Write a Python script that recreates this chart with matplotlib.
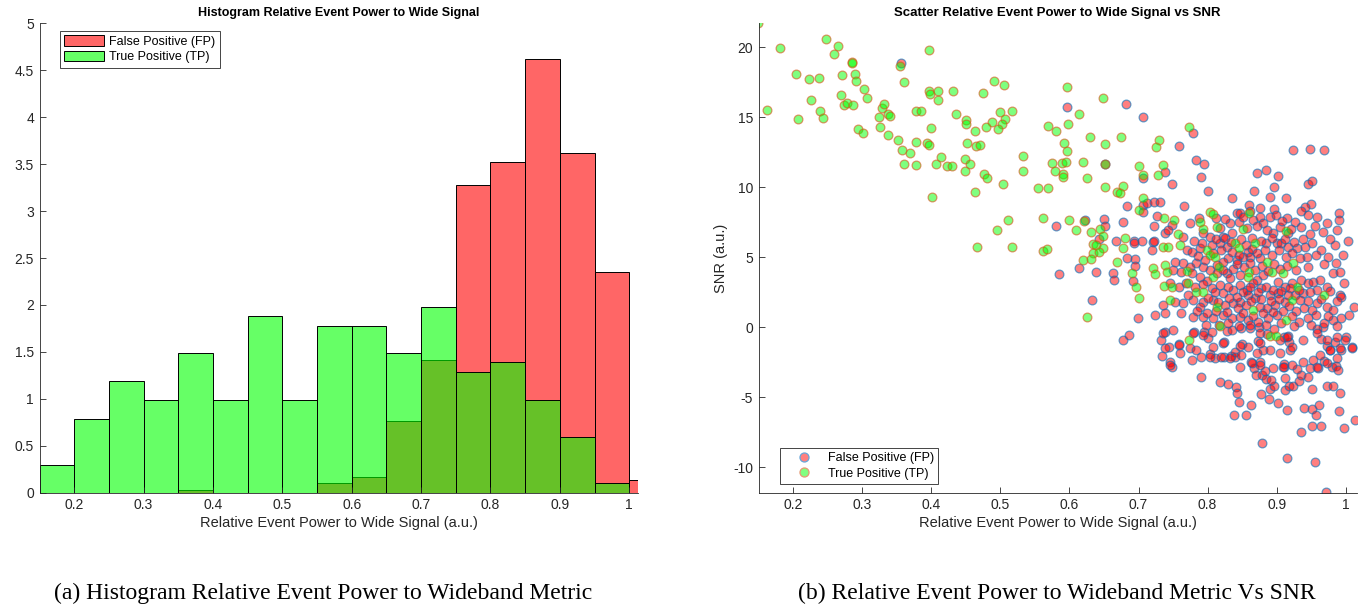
import numpy as np
import matplotlib
matplotlib.use("Agg")
import matplotlib.pyplot as plt
from matplotlib.patches import Patch
from matplotlib.lines import Line2D
from matplotlib.ticker import FuncFormatter

# ---- histogram (pdf normalised, bin width 0.05) ----
bin_starts = [0.15, 0.20, 0.25, 0.30, 0.35, 0.40, 0.45, 0.50, 0.55,
              0.60, 0.65, 0.70, 0.75, 0.80, 0.85, 0.90, 0.95, 1.00]
fp_density = [0, 0, 0, 0, 0.03, 0, 0, 0, 0.10,
              0.17, 0.76, 1.41, 3.28, 3.52, 4.62, 3.62, 2.35, 0.14]
tp_density = [0.30, 0.79, 1.19, 0.99, 1.49, 0.99, 1.88, 0.99, 1.78,
              1.78, 1.49, 1.98, 1.29, 1.39, 0.99, 0.59, 0.10, 0]

# ---- scatter: (relative power, SNR) ----
tp_points = [
    (0.149, 21.71), (0.162, 15.54), (0.180, 19.95), (0.204, 18.07), (0.206, 14.90),
    (0.223, 17.71), (0.237, 17.79), (0.226, 16.24), (0.239, 15.47), (0.243, 14.95),
    (0.247, 20.61), (0.259, 19.50), (0.265, 20.09), (0.270, 18.04), (0.269, 16.57),
    (0.274, 15.88), (0.278, 16.00), (0.286, 15.88), (0.285, 18.95), (0.285, 18.90),
    (0.289, 18.07), (0.290, 17.57), (0.302, 17.04), (0.306, 16.36), (0.293, 14.14),
    (0.301, 13.86), (0.324, 15.00), (0.326, 14.29), (0.329, 15.66), (0.332, 15.93),
    (0.337, 15.24), (0.340, 15.07), (0.337, 13.76), (0.352, 13.40), (0.357, 12.66),
    (0.360, 11.69), (0.369, 12.43), (0.377, 11.59), (0.377, 13.26), (0.377, 15.43),
    (0.385, 15.43), (0.355, 18.69), (0.360, 17.50), (0.396, 19.79), (0.397, 16.88),
    (0.398, 16.64), (0.410, 16.86), (0.410, 16.24), (0.431, 16.90), (0.436, 15.26),
    (0.399, 14.26), (0.394, 13.19), (0.397, 13.02), (0.406, 11.69), (0.414, 12.14),
    (0.422, 11.50), (0.430, 11.54), (0.449, 12.02), (0.449, 11.16), (0.450, 14.81),
    (0.450, 14.54), (0.452, 13.14), (0.401, 9.30),
    (0.490, 17.57), (0.505, 17.29), (0.475, 16.76), (0.500, 15.36), (0.516, 15.45),
    (0.506, 14.88), (0.502, 14.52), (0.497, 14.14), (0.488, 14.66), (0.479, 14.33),
    (0.463, 14.04), (0.464, 12.95), (0.471, 13.04), (0.456, 11.66), (0.476, 10.93),
    (0.481, 10.64), (0.463, 9.66), (0.503, 10.21), (0.533, 12.26), (0.532, 11.14),
    (0.554, 9.93), (0.569, 9.95), (0.569, 14.38), (0.580, 14.04), (0.596, 17.19),
    (0.598, 14.52), (0.592, 13.14), (0.597, 12.61), (0.574, 11.71), (0.589, 11.74),
    (0.595, 11.81), (0.579, 11.16), (0.590, 10.93), (0.591, 10.71), (0.614, 15.26),
    (0.649, 16.38), (0.630, 13.57), (0.651, 13.09), (0.675, 13.57), (0.620, 11.81),
    (0.625, 10.64), (0.651, 11.66), (0.651, 10.00), (0.700, 11.54), (0.706, 10.88),
    (0.730, 13.40), (0.725, 12.90), (0.736, 11.62), (0.728, 10.86), (0.678, 10.07),
    (0.669, 9.69), (0.673, 9.61),
    (0.773, 14.31), (0.803, 8.24), (0.808, 8.09), (0.860, 8.14), (0.913, 6.88),
    (0.851, 7.04), (0.757, 6.66), (0.752, 7.64), (0.793, 7.00), (0.814, 7.19),
    (0.789, 7.54),
    (0.511, 7.64), (0.495, 6.93), (0.561, 7.83), (0.466, 5.76), (0.517, 5.76),
    (0.562, 5.43), (0.567, 5.61), (0.599, 7.64), (0.610, 6.95), (0.621, 7.59),
    (0.631, 6.79), (0.644, 7.00), (0.649, 6.52), (0.634, 5.95), (0.638, 5.86),
    (0.648, 5.69), (0.634, 5.29), (0.643, 5.40), (0.620, 4.81), (0.631, 4.86),
    (0.669, 4.69), (0.677, 5.64), (0.681, 6.40), (0.690, 3.86), (0.697, 2.90),
    (0.700, 2.07), (0.701, 8.38), (0.707, 9.21), (0.737, 7.83), (0.721, 4.21),
    (0.724, 3.79),
    (0.626, 0.71), (0.773, -0.90), (0.891, -0.59), (0.899, -0.59),
    (0.735, 5.76), (0.743, 5.76), (0.760, 5.88), (0.799, 5.53), (0.803, 5.17),
    (0.811, 5.05), (0.840, 6.05), (0.845, 5.64), (0.869, 6.00), (0.924, 4.62),
    (0.886, 4.69), (0.738, 4.46), (0.741, 3.98), (0.770, 4.05), (0.737, 2.96),
    (0.748, 2.91), (0.772, 3.19), (0.783, 2.55), (0.794, 2.55), (0.808, 3.62),
    (0.816, 4.34), (0.860, 3.98), (0.859, 3.62), (0.893, 3.98), (0.910, 3.86),
    (0.929, 2.91), (0.969, 2.31), (0.745, 1.96), (0.814, 1.48), (0.866, 1.24),
    (0.923, 1.96), (0.914, 0.53), (0.818, 0.10),
]

fp_points = [
    (0.356, 18.90), (0.597, 15.71), (0.682, 15.95), (0.706, 15.00), (0.651, 11.66),
    (0.706, 10.69), (0.738, 11.12), (0.749, 10.24), (0.758, 12.93), (0.779, 13.86),
    (0.924, 12.66), (0.949, 12.76), (0.969, 12.66), (0.784, 11.95), (0.795, 11.64),
    (0.790, 10.74), (0.800, 9.76), (0.871, 11.02), (0.885, 11.21), (0.902, 10.79),
    (0.897, 10.02), (0.867, 9.71), (0.891, 9.29), (0.914, 9.21), (0.835, 9.21),
    (0.945, 10.26), (0.951, 10.43), (0.766, 8.66), (0.860, 8.71), (0.897, 8.47),
    (0.950, 8.79), (0.941, 8.57), (0.936, 8.31), (0.946, 8.04), (0.991, 8.19),
    (0.991, 7.64),
    (0.774, 7.43), (0.787, 7.79), (0.794, 6.72), (0.803, 6.48), (0.818, 7.07),
    (0.823, 6.48), (0.832, 7.43), (0.835, 6.72), (0.842, 8.14), (0.847, 8.19),
    (0.845, 7.55), (0.857, 7.07), (0.866, 7.67), (0.876, 7.91), (0.881, 7.43),
    (0.886, 6.95), (0.890, 7.91), (0.895, 6.72), (0.905, 7.19), (0.915, 7.79),
    (0.917, 6.72), (0.927, 7.55), (0.936, 7.19), (0.948, 6.67), (0.765, 6.48),
    (0.749, 7.31), (0.876, 8.50), (0.958, 7.91), (0.973, 7.43), (0.987, 6.95),
    (0.581, 7.24), (0.622, 7.64), (0.650, 7.74), (0.652, 7.26), (0.643, 6.31),
    (0.614, 4.21), (0.638, 3.95), (0.585, 3.79), (0.663, 3.86), (0.665, 3.38),
    (0.632, 1.95), (0.677, 7.50), (0.683, 8.66), (0.668, 6.16), (0.693, 6.16),
    (0.694, 6.00), (0.705, 6.16), (0.684, 4.97), (0.695, 4.88), (0.695, 4.38),
    (0.692, 3.31), (0.706, 8.70), (0.707, 8.20), (0.712, 8.85), (0.723, 8.95),
    (0.731, 8.95), (0.727, 7.95), (0.722, 7.26), (0.738, 6.71), (0.743, 6.95),
    (0.721, 6.11), (0.723, 6.20), (0.720, 5.52),
    (0.678, -0.90), (0.686, -0.52), (0.732, -0.90), (0.739, -0.36), (0.734, -2.02),
    (0.745, -2.45), (0.748, -2.80), (0.759, -1.19), (0.744, -1.43), (0.775, -1.47),
    (0.783, -1.59), (0.790, -3.52), (0.781, -0.36), (0.795, -0.36), (0.801, -0.78),
    (0.803, -1.90), (0.811, -2.19), (0.818, -3.87), (0.824, -2.09), (0.834, -2.02),
    (0.824, -1.02), (0.828, -0.24), (0.830, -4.04), (0.841, -4.25), (0.842, -4.70),
    (0.846, -5.30), (0.839, -6.29), (0.855, -6.29), (0.863, -5.53), (0.840, -1.73),
    (0.850, -1.19), (0.863, -2.49), (0.867, -2.90), (0.870, -3.44), (0.879, -3.44),
    (0.883, -3.09), (0.876, -2.49), (0.880, -1.62), (0.873, -0.95), (0.862, -0.07),
    (0.874, 0.00), (0.884, -3.68), (0.878, -4.75), (0.879, -8.24), (0.890, -4.44),
    (0.896, -4.16), (0.892, -3.75), (0.889, -5.11), (0.902, -5.39), (0.886, -0.48),
    (0.897, -0.12), (0.912, -3.63), (0.915, -5.87), (0.912, -4.51), (0.918, -4.20),
    (0.924, -4.16), (0.932, -3.80), (0.936, -3.44), (0.915, -9.33), (0.911, -2.85),
    (0.911, -2.61), (0.911, -0.71), (0.916, -0.59), (0.918, -1.07), (0.920, -1.59),
    (0.930, -2.97), (0.936, -7.48), (0.940, -5.75), (0.946, -3.56), (0.948, -2.92),
    (0.951, -4.39), (0.952, -5.82), (0.952, -7.08), (0.955, -9.62), (0.957, -6.29),
    (0.960, -2.92), (0.962, -5.53), (0.965, -7.08), (0.969, -2.38), (0.973, -1.35),
    (0.973, -4.16), (0.980, -2.85), (0.982, -4.16), (0.986, -2.73), (0.989, -3.02),
    (0.991, -6.01), (0.992, -4.70), (0.998, -7.20), (1.014, -6.60), (1.009, -1.43),
    (1.000, -0.67), (0.994, -1.62), (0.984, -1.07), (0.978, -1.62), (0.964, -0.83),
    (0.967, 0.00), (0.958, -0.12), (0.972, -11.76), (0.699, 0.64), (0.724, 0.88),
    (0.770, 5.53), (0.777, 5.41), (0.789, 5.64), (0.818, 6.00), (0.828, 5.76),
    (0.858, 5.41), (0.885, 6.05), (0.900, 6.00), (0.907, 6.05), (0.917, 5.76),
    (0.929, 5.64), (0.941, 5.76), (0.952, 6.00), (0.965, 5.53), (0.985, 5.88),
    (0.996, 5.17), (0.944, 5.05), (0.934, 4.93), (0.876, 4.93), (0.861, 5.05),
    (0.852, 5.05), (0.842, 4.81), (0.830, 4.93), (0.823, 4.69), (0.813, 4.46),
    (0.803, 4.10), (0.794, 4.34), (0.784, 4.57), (0.774, 4.34), (0.765, 4.57),
    (0.753, 4.69), (0.750, 4.10), (0.762, 3.98), (0.745, 3.15), (0.758, 2.91),
    (0.806, 2.79), (0.818, 3.03), (0.828, 3.86), (0.832, 3.50), (0.847, 3.74),
    (0.871, 3.38), (0.866, 3.15), (0.881, 3.74), (0.902, 3.26), (0.912, 2.91),
    (0.922, 3.15), (0.936, 3.38), (0.946, 3.15), (0.953, 3.26), (0.963, 3.38),
    (0.973, 2.91), (0.982, 3.86), (0.992, 3.98), (0.997, 3.15), (0.992, 2.31),
    (0.958, 2.67), (0.939, 2.43), (0.927, 2.31), (0.917, 2.31), (0.902, 2.43),
    (0.890, 2.31), (0.878, 2.79), (0.857, 2.67), (0.847, 3.03), (0.837, 2.67),
    (0.823, 2.43), (0.794, 1.84), (0.736, 1.60), (0.753, 1.84), (0.764, 1.77),
    (0.779, 1.96), (0.789, 1.48), (0.808, 1.96), (0.825, 1.60), (0.837, 1.72),
    (0.847, 1.84), (0.858, 2.31), (0.869, 2.07), (0.876, 1.48), (0.886, 1.36),
    (0.898, 1.60), (0.912, 1.84), (0.934, 1.96), (0.940, 1.36), (0.951, 1.24),
    (0.958, 1.72), (0.973, 1.48), (0.982, 1.24), (0.994, 2.19), (1.012, 1.48),
    (0.900, 0.88), (0.888, 0.65), (0.873, 0.41), (0.859, 0.53), (0.847, 0.77),
    (0.835, 0.65), (0.823, 0.88), (0.808, 0.65), (0.793, 0.77), (0.779, 0.72),
    (0.762, 1.00), (0.738, 1.00), (0.816, 0.17), (0.946, 0.65), (0.968, 0.29),
    (0.982, 0.53), (0.994, 0.65),
    # lower part of the dense cluster
    (0.736, -0.42), (0.750, -0.19), (0.738, -1.50), (0.758, -1.26), (0.779, -0.42),
    (0.794, -0.54), (0.806, -0.31), (0.808, -1.38), (0.823, -1.14), (0.820, -2.09),
    (0.835, -0.19), (0.849, -0.07), (0.861, 0.17), (0.876, -0.42), (0.915, -0.66),
    (0.905, -0.90), (0.876, -1.14), (0.859, -1.38), (0.847, -1.33), (0.840, -2.09),
    (0.849, -1.97), (0.871, -1.85), (0.890, -1.61), (0.905, -1.85), (0.923, -1.38),
    (0.939, -0.90), (0.958, -0.42), (0.973, -0.90), (0.987, -0.66), (0.999, -0.90),
    (1.009, -1.50), (0.992, -1.50), (0.977, -1.61), (0.963, -1.97), (0.953, -2.33),
    (0.939, -2.45), (0.922, -2.69), (0.910, -2.80), (0.895, -2.92), (0.876, -2.69),
    (0.864, -2.57), (0.847, -2.80), (0.832, -2.21), (0.803, -2.09), (0.791, -2.09),
    (0.777, -2.33), (0.760, -1.85), (0.745, -2.69), (0.973, -2.57), (0.987, -2.21),
    (0.958, -2.80),
    # core of the dense cluster
    (0.781, 6.2), (0.792, 6.0), (0.806, 5.9), (0.812, 6.3), (0.826, 6.4),
    (0.834, 6.1), (0.849, 6.3), (0.856, 5.9), (0.865, 6.4), (0.878, 6.2),
    (0.893, 6.4), (0.912, 6.3), (0.925, 6.1), (0.938, 6.3),
    (0.786, 5.1), (0.797, 4.8), (0.808, 5.3), (0.819, 5.5), (0.836, 5.4),
    (0.846, 5.2), (0.865, 5.6), (0.872, 5.3), (0.883, 5.5), (0.893, 5.2),
    (0.904, 5.5), (0.913, 5.0), (0.922, 5.3), (0.957, 5.2), (0.975, 5.0),
    (0.778, 3.9), (0.789, 3.6), (0.799, 3.3), (0.813, 3.9), (0.822, 4.1),
    (0.837, 4.2), (0.843, 4.5), (0.853, 4.3), (0.862, 4.6), (0.869, 4.1),
    (0.879, 4.4), (0.887, 4.0), (0.896, 4.5), (0.905, 4.2), (0.915, 4.4),
    (0.928, 4.1), (0.946, 4.3), (0.968, 4.5), (0.986, 4.6),
    (0.769, 3.2), (0.782, 2.9), (0.793, 3.1), (0.811, 2.5), (0.829, 2.9),
    (0.842, 2.2), (0.852, 2.5), (0.861, 2.9), (0.873, 2.5), (0.884, 2.9),
    (0.895, 2.7), (0.907, 2.6), (0.919, 2.8), (0.933, 2.7), (0.948, 2.5),
    (0.978, 2.6),
    (0.772, 2.3), (0.801, 2.1), (0.815, 1.8), (0.831, 2.1), (0.844, 1.4),
    (0.855, 1.6), (0.863, 1.9), (0.878, 2.0), (0.892, 1.9), (0.904, 2.0),
    (0.918, 1.5), (0.928, 1.2), (0.946, 1.9), (0.965, 2.0), (0.987, 1.9),
    (0.785, 1.2), (0.799, 1.0), (0.812, 1.2), (0.828, 1.1), (0.852, 1.0),
    (0.866, 0.8), (0.881, 1.0), (0.895, 1.1), (0.909, 1.2), (0.922, 0.8),
    (0.933, 0.4), (0.957, 0.9), (0.974, 0.8), (1.005, 0.9),
    (0.798, 0.2), (0.829, 0.3), (0.845, 0.1), (0.885, 0.2), (0.906, 0.3),
    (0.925, 0.1), (0.950, 0.2), (0.988, 0.1),
    (0.812, 7.8), (0.826, 7.7), (0.851, 7.9), (0.862, 8.3), (0.871, 7.2),
    (0.899, 8.0), (0.908, 7.6), (0.921, 7.0), (0.955, 7.2), (0.967, 6.8),
    (0.978, 6.3), (1.003, 6.2),
]

fp_x, fp_y = np.array(fp_points).T
tp_x, tp_y = np.array(tp_points).T

plt.rcParams['font.family'] = ['Liberation Sans', 'DejaVu Sans']
axis_col = '#262626'

fig = plt.figure(figsize=(13.64, 6.07), dpi=100)
ax1 = fig.add_axes([0.0290, 0.1883, 0.4384, 0.7733])
ax2 = fig.add_axes([0.5562, 0.1883, 0.4384, 0.7733])

# histogram
starts = np.array(bin_starts)
fp_h = np.array(fp_density)
tp_h = np.array(tp_density)
m = fp_h > 0
ax1.bar(starts[m], fp_h[m], width=0.05, align='edge', color=(1, 0, 0, 0.6),
        edgecolor='black', linewidth=0.7)
m = tp_h > 0
ax1.bar(starts[m], tp_h[m], width=0.05, align='edge', color=(0, 1, 0, 0.6),
        edgecolor='black', linewidth=0.7)
ax1.set_xlim(0.15, 1.012)
ax1.set_ylim(0, 5)
ax1.set_xticks([0.2, 0.3, 0.4, 0.5, 0.6, 0.7, 0.8, 0.9, 1.0])
ax1.set_yticks(np.arange(0, 5.01, 0.5))
ax1.set_title('Histogram Relative Event Power to Wide Signal', fontsize=9,
              fontweight='bold', pad=5)
ax1.set_xlabel('Relative Event Power to Wide Signal (a.u.)', fontsize=10.5,
               color=axis_col, labelpad=3)
h1 = [Patch(facecolor=(1, 0.4, 0.4), edgecolor='black', linewidth=0.7),
      Patch(facecolor=(0.4, 1, 0.4), edgecolor='black', linewidth=0.7)]
leg1 = ax1.legend(h1, ['False Positive (FP)', 'True Positive (TP)'],
                  loc='upper left', bbox_to_anchor=(0.034, 0.984), borderaxespad=0,
                  fontsize=9, fancybox=False, edgecolor=axis_col, framealpha=1,
                  handlelength=3.2, handleheight=0.9, handletextpad=0.4,
                  labelspacing=0.25, borderpad=0.35)
leg1.get_frame().set_linewidth(0.6)

# scatter
ax2.scatter(fp_x, fp_y, s=40, facecolor=(1, 0, 0, 0.5),
            edgecolor=(0, 0.447, 0.741, 0.6), linewidths=0.9)
ax2.scatter(tp_x, tp_y, s=40, facecolor=(0, 1, 0, 0.5),
            edgecolor=(0.851, 0.325, 0.098, 0.6), linewidths=0.9)
ax2.set_xlim(0.1497, 1.016)
ax2.set_ylim(-11.81, 21.71)
ax2.set_xticks([0.2, 0.3, 0.4, 0.5, 0.6, 0.7, 0.8, 0.9, 1.0])
ax2.set_yticks([-10, -5, 0, 5, 10, 15, 20])
ax2.set_title('Scatter Relative Event Power to Wide Signal vs SNR', fontsize=9.5,
              fontweight='bold', pad=5)
ax2.set_xlabel('Relative Event Power to Wide Signal (a.u.)', fontsize=10.5,
               color=axis_col, labelpad=3)
ax2.set_ylabel('SNR (a.u.)', fontsize=10.5, color=axis_col, labelpad=4)
h2 = [Line2D([], [], ls='', marker='o', markersize=6.5, markerfacecolor=(1, 0.5, 0.5),
             markeredgecolor=(0.4, 0.65, 0.85), markeredgewidth=0.9),
      Line2D([], [], ls='', marker='o', markersize=6.5, markerfacecolor=(0.5, 1, 0.5),
             markeredgecolor=(0.9, 0.6, 0.45), markeredgewidth=0.9)]
leg2 = ax2.legend(h2, ['False Positive (FP)', 'True Positive (TP)'],
                  loc='lower left', bbox_to_anchor=(0.035, 0.0185), borderaxespad=0,
                  fontsize=9, fancybox=False, edgecolor=axis_col, framealpha=1,
                  handlelength=3.2, handletextpad=0.3, labelspacing=0.3,
                  borderpad=0.35)
leg2.get_frame().set_linewidth(0.6)

fmt = FuncFormatter(lambda v, p: f'{v:g}')
for ax in (ax1, ax2):
    ax.xaxis.set_major_formatter(fmt)
    ax.yaxis.set_major_formatter(fmt)
    ax.spines['top'].set_visible(False)
    ax.spines['right'].set_visible(False)
    for s in ('left', 'bottom'):
        ax.spines[s].set_color(axis_col)
        ax.spines[s].set_linewidth(0.6)
    ax.tick_params(direction='in', length=4, width=0.6, colors=axis_col,
                   labelsize=10, pad=4)

fig.text(0.237, 0.023, '(a) Histogram Relative Event Power to Wideband Metric',
         ha='center', va='center', fontsize=17, family='Liberation Serif')
fig.text(0.775, 0.023, '(b) Relative Event Power to Wideband Metric Vs SNR',
         ha='center', va='center', fontsize=17, family='Liberation Serif')

fig.savefig('out.png', dpi=100)
